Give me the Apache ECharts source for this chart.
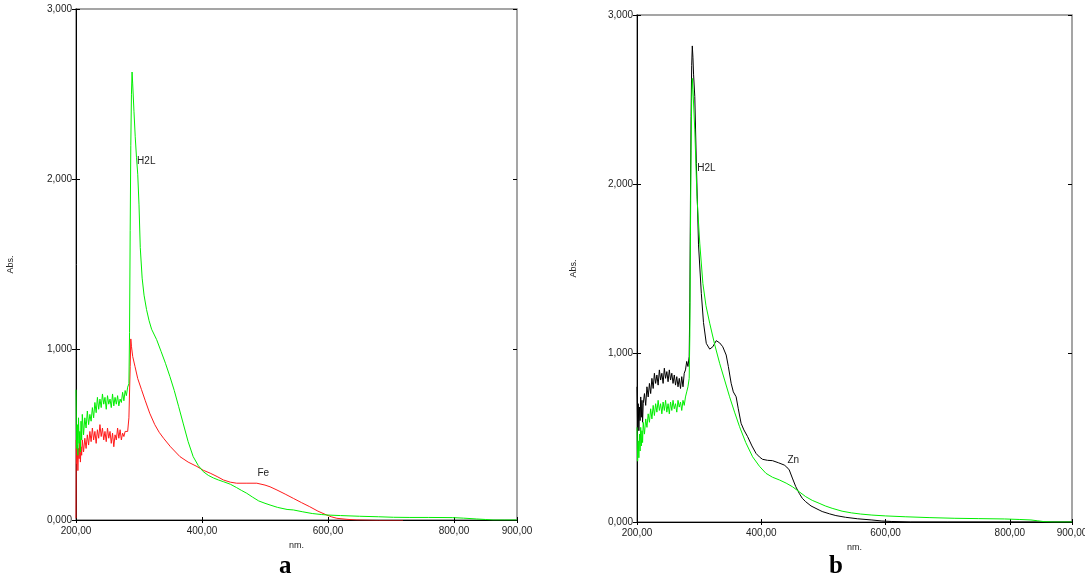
<!DOCTYPE html>
<html>
<head>
<meta charset="utf-8">
<script src="https://cdn.jsdelivr.net/npm/echarts@6/dist/echarts.min.js"></script>
<style>
html,body{margin:0;padding:0;background:#fff;}
#chart{width:1085px;height:582px;}
</style>
</head>
<body>
<div id="chart"></div>
<script>
// ---- Data (wavelength nm, absorbance Abs.) ----
var xTicks = [200, 400, 600, 800, 900];
var yTicks = [0, 1, 2, 3];
var panelLetters = ['a', 'b'];
var seriesNames = ['H2L', 'Fe', 'H2L', 'Zn'];

// Panel a : H2L (green)
var h2lA = [
 [200,0.765],[201,0.420],[202,0.560],[203,0.380],[204,0.600],[205,0.450],[206,0.520],[207,0.400],[208,0.580],[209,0.470],
 [210,0.620],[212,0.500],[214,0.600],[216,0.540],[218,0.640],[220,0.560],[222,0.620],[224,0.580],[226,0.660],[228,0.600],
 [230,0.690],[232,0.630],[234,0.720],[236,0.650],[238,0.710],[240,0.660],[242,0.740],[244,0.680],[246,0.720],[248,0.650],
 [250,0.730],[252,0.680],[254,0.710],[256,0.660],[258,0.740],[260,0.670],[262,0.720],[264,0.680],[266,0.730],[268,0.670],
 [270,0.710],[272,0.690],[274,0.750],[276,0.700],[278,0.760],[280,0.730],[282,0.780],[284,0.800],[285,1.100],[286,1.700],
 [287,2.200],[288,2.500],[289,2.630],[290,2.560],[292,2.400],[294,2.250],[296,2.130],[298,2.030],[300,1.850],[302,1.600],
 [305,1.420],[308,1.320],[312,1.235],[316,1.170],[320,1.120],[328,1.059],[335,0.990],[342,0.920],[349,0.843],[356,0.760],
 [363,0.665],[370,0.569],[378,0.460],[386,0.372],[394,0.320],[402,0.284],[410,0.262],[418,0.247],[426,0.235],[434,0.225],
 [445,0.210],[455,0.190],[463,0.173],[471,0.157],[480,0.135],[490,0.112],[500,0.098],[508,0.088],[520,0.074],[535,0.062],
 [545,0.059],[560,0.048],[575,0.038],[590,0.032],[600,0.029],[620,0.026],[650,0.022],[680,0.019],[704,0.016],[730,0.015],
 [760,0.015],[798,0.014],[815,0.011],[836,0.006],[850,0.003],[862,0.000],[880,0.000],[900,0.000]
];

// Panel a : Fe complex (red)
var feA = [
 [200,0.010],[200.5,0.470],[201,0.330],[202,0.440],[203,0.290],[204,0.420],[205,0.360],[206,0.460],[207,0.340],[208,0.430],
 [209,0.380],[210,0.470],[212,0.400],[214,0.480],[216,0.420],[218,0.500],[220,0.440],[222,0.520],[224,0.460],[226,0.540],
 [228,0.470],[230,0.520],[232,0.450],[234,0.530],[236,0.480],[238,0.560],[240,0.490],[242,0.540],[244,0.470],[246,0.520],
 [248,0.460],[250,0.540],[252,0.480],[254,0.520],[256,0.450],[258,0.510],[260,0.430],[262,0.500],[264,0.470],[266,0.540],
 [268,0.480],[270,0.530],[272,0.470],[274,0.510],[276,0.490],[278,0.520],[280,0.510],[282,0.520],[284,0.600],[286,0.900],
 [287,1.063],[288,1.020],[290,0.960],[293.6,0.902],[298,0.830],[304,0.765],[310,0.700],[317,0.627],[325,0.560],[332,0.515],
 [339,0.480],[350,0.430],[365,0.372],[378,0.340],[392,0.314],[402,0.292],[413,0.275],[424,0.255],[434,0.235],[445,0.222],
 [455,0.216],[470,0.216],[487,0.216],[500,0.205],[508,0.195],[519,0.176],[532,0.152],[545,0.127],[558,0.102],[571,0.078],
 [584,0.052],[598,0.029],[606,0.018],[614,0.010],[630,0.004],[645,0.000],[680,-0.003],[719,-0.003]
];

// Panel b : H2L (green)
var h2lB = [
 [200,0.560],[201,0.360],[202,0.480],[203,0.380],[204,0.520],[205,0.420],[206,0.560],[207,0.450],[208,0.540],[209,0.470],
 [210,0.590],[212,0.520],[214,0.610],[216,0.560],[218,0.640],[220,0.590],[222,0.670],[224,0.610],[226,0.690],[228,0.630],
 [230,0.700],[232,0.650],[234,0.720],[236,0.660],[238,0.700],[240,0.640],[242,0.710],[244,0.660],[246,0.720],[248,0.650],
 [250,0.700],[252,0.640],[254,0.710],[256,0.660],[258,0.720],[260,0.670],[262,0.700],[264,0.650],[266,0.720],[268,0.680],
 [270,0.710],[272,0.660],[274,0.720],[276,0.690],[278,0.740],[280,0.770],[282,0.800],[284,0.850],[285,1.100],[286,1.700],
 [287,2.200],[288,2.500],[289,2.625],[290,2.560],[293,2.320],[296.5,1.925],[301,1.650],[306,1.412],[311,1.280],[317,1.176],
 [325,1.050],[333,0.939],[341,0.840],[349,0.741],[357,0.650],[365,0.564],[375,0.470],[386,0.386],[397,0.330],[407.5,0.288],
 [418,0.265],[429,0.249],[440,0.230],[450,0.209],[461,0.179],[471.5,0.150],[482,0.128],[493,0.111],[503,0.095],[514,0.081],
 [530,0.064],[545,0.054],[560,0.047],[578,0.041],[600,0.036],[631.5,0.031],[670,0.026],[711.5,0.022],[750,0.020],[791.5,0.018],
 [815,0.015],[834,0.012],[845,0.007],[855.5,0.002],[870,0.000],[900,0.000]
];

// Panel b : Zn complex (black)
var znB = [
 [200,0.800],[201,0.560],[202,0.700],[203,0.540],[204,0.680],[205,0.600],[206,0.740],[207,0.620],[208,0.720],[209,0.590],
 [210,0.700],[212,0.760],[214,0.690],[216,0.800],[218,0.740],[220,0.820],[222,0.760],[224,0.850],[226,0.790],[228,0.880],
 [230,0.820],[232,0.870],[234,0.810],[236,0.900],[238,0.840],[240,0.880],[242,0.820],[244,0.910],[246,0.850],[248,0.890],
 [250,0.830],[252,0.900],[254,0.840],[256,0.880],[258,0.820],[260,0.870],[262,0.810],[264,0.860],[266,0.800],[268,0.850],
 [270,0.790],[272,0.860],[274,0.800],[276,0.880],[278,0.900],[280,0.950],[282,0.920],[284,0.980],[285,1.300],[286,1.900],
 [287,2.400],[288,2.700],[289,2.817],[290,2.750],[291,2.650],[293,2.517],[295.5,2.122],[299,1.640],[303.5,1.353],[307,1.180],
 [311.5,1.057],[317,1.023],[322,1.037],[327.5,1.073],[333,1.060],[338,1.037],[343.5,0.988],[347,0.920],[351.5,0.821],[355,0.770],
 [359.5,0.741],[363,0.670],[367.5,0.584],[372,0.545],[378,0.505],[385,0.450],[391.5,0.406],[397,0.385],[402,0.371],[410,0.365],
 [418,0.363],[428,0.350],[437,0.337],[441,0.325],[445,0.308],[450,0.260],[455.5,0.209],[461,0.170],[466,0.140],[471.5,0.120],
 [480,0.095],[493,0.071],[498,0.062],[510,0.048],[520,0.038],[535.5,0.028],[555,0.019],[578,0.012],[594,0.006],[610,0.003],
 [640,0.000],[700,0.000],[760,0.000],[800,0.000],[900,0.000]
];

// label anchor points (data coordinates)
var labelH2LA = [297, 2.106];
var labelFeA = [488, 0.276];
var labelH2LB = [297, 2.095];
var labelZnB = [442, 0.367];

// ---- Chart ----
var FONT = 'Liberation Sans, Arial, sans-serif';
var chart = echarts.init(document.getElementById('chart'), null, {renderer: 'canvas'});

function fmtX(v){ return v.toFixed(2).replace('.', ','); }
function fmtY(v){ return v.toFixed(3).replace('.', ','); }

function xAxes(gi){
  return [{
    gridIndex: gi, type: 'value', min: xTicks[0], max: xTicks[xTicks.length-1], interval: 200,
    axisLine: {lineStyle: {color: '#000', width: 1}},
    axisTick: {length: 3, lineStyle: {color: '#000'}},
    axisLabel: {formatter: fmtX, fontSize: 10, color: '#222', margin: 6, fontFamily: FONT},
    splitLine: {show: false},
    name: 'nm.', nameLocation: 'middle', nameGap: 20,
    nameTextStyle: {fontSize: 9, color: '#222', fontFamily: FONT}
  },{
    gridIndex: gi, type: 'value', position: 'bottom', min: xTicks[0], max: xTicks[xTicks.length-1], interval: 200,
    axisLine: {show: false},
    axisTick: {inside: true, length: 3, lineStyle: {color: '#000'}},
    axisLabel: {show: false}, splitLine: {show: false}
  }];
}
function yAxes(gi, gap){
  return [{
    gridIndex: gi, type: 'value', min: 0, max: 3, interval: 1,
    axisLine: {lineStyle: {color: '#000', width: 1}},
    axisTick: {length: 4, lineStyle: {color: '#000'}},
    axisLabel: {formatter: fmtY, fontSize: 10, color: '#222', margin: 4, fontFamily: FONT},
    splitLine: {show: false},
    name: 'Abs.', nameLocation: 'middle', nameGap: gap,
    nameTextStyle: {fontSize: 9, color: '#222', fontFamily: FONT}
  },{
    gridIndex: gi, type: 'value', position: 'left', min: 0, max: 3, interval: 1,
    axisLine: {show: false},
    axisTick: {inside: true, length: 4, lineStyle: {color: '#000'}},
    axisLabel: {show: false}, splitLine: {show: false}
  },{
    gridIndex: gi, type: 'value', position: 'right', min: 0, max: 3, interval: 1,
    axisLine: {show: false},
    axisTick: {inside: true, length: 4, lineStyle: {color: '#000'}},
    axisLabel: {show: false}, splitLine: {show: false}
  }];
}

function lineSeries(name, data, color, xi, yi, lbl){
  return {
    name: name, type: 'line', data: data, xAxisIndex: xi, yAxisIndex: yi,
    symbol: 'none', smooth: false,
    lineStyle: {color: color, width: 1},
    z: 3,
    markPoint: {
      symbol: 'circle', symbolSize: 0, silent: true,
      label: {show: true, position: 'right', distance: 0, formatter: name,
              fontSize: 10, color: '#222', fontFamily: FONT},
      data: [{coord: lbl}]
    }
  };
}

var option = {
  animation: false,
  backgroundColor: '#fff',
  grid: [
    {left: 76, top: 9, width: 441, height: 511, show: true, borderColor: '#888', borderWidth: 1.5, backgroundColor: 'transparent', containLabel: false, outerBoundsMode: 'none'},
    {left: 637, top: 15, width: 435, height: 507, show: true, borderColor: '#888', borderWidth: 1.5, backgroundColor: 'transparent', containLabel: false, outerBoundsMode: 'none'}
  ],
  xAxis: xAxes(0).concat(xAxes(1)),
  yAxis: yAxes(0, 61).concat(yAxes(1, 59)),
  series: [
    lineSeries(seriesNames[1], feA, '#ff1a1a', 0, 0, labelFeA),
    lineSeries(seriesNames[0], h2lA, '#00ee00', 0, 0, labelH2LA),
    lineSeries(seriesNames[3], znB, '#000000', 2, 3, labelZnB),
    lineSeries(seriesNames[2], h2lB, '#00ee00', 2, 3, labelH2LB)
  ],
  graphic: [
    {type: 'text', left: 279, top: 554, style: {text: panelLetters[0], font: 'bold 25px "Liberation Serif", "Times New Roman", serif', fill: '#000'}},
    {type: 'text', left: 829, top: 554, style: {text: panelLetters[1], font: 'bold 25px "Liberation Serif", "Times New Roman", serif', fill: '#000'}}
  ]
};
chart.setOption(option);
</script>
</body>
</html>
